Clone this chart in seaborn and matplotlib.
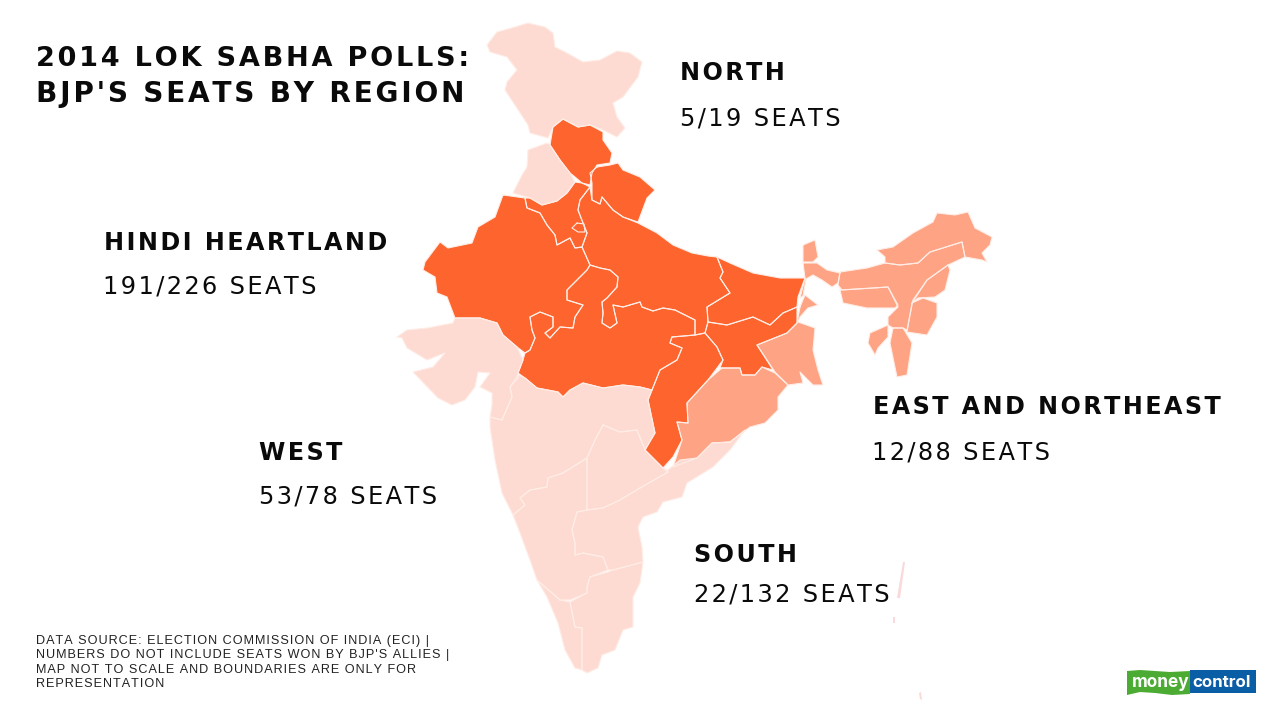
import matplotlib
matplotlib.use("Agg")
import matplotlib.pyplot as plt
import pandas as pd
import seaborn as sns

# ---- text content ----
TITLE_LINES = ["2014 LOK SABHA POLLS:", "BJP'S SEATS BY REGION"]
REGION_NAMES = ["NORTH", "HINDI HEARTLAND", "EAST AND NORTHEAST", "WEST", "SOUTH"]
REGION_SEATS = ["5/19 SEATS", "191/226 SEATS", "12/88 SEATS", "53/78 SEATS", "22/132 SEATS"]
FOOTNOTE = ["DATA SOURCE: ELECTION COMMISSION OF INDIA (ECI) |",
            "NUMBERS DO NOT INCLUDE SEATS WON BY BJP'S ALLIES |",
            "MAP NOT TO SCALE AND BOUNDARIES ARE ONLY FOR",
            "REPRESENTATION"]

# ---- map outlines ----
JAMMU_KASHMIR = [(487,45),(497,32),(515,27),(528,23),(545,27),(553,33),(555,47),(567,53),(583,62),(600,60),(617,51),(630,53),(642,62),(638,77),(623,97),(613,103),(617,117),(625,128),(617,137),(603,130),(590,125),(578,127),(563,119),(553,127),(548,138),(530,133),(528,125),(505,90),(507,82),(517,70),(507,57),(490,52)]
PUNJAB = [(547,143),(550,145),(560,160),(570,173),(575,182),(567,193),(557,201),(542,205),(530,198),(513,193),(522,175),(527,167),(528,150)]
HIMACHAL = [(563,119),(578,127),(590,125),(603,132),(603,140),(612,153),(610,163),(597,165),(592,173),(590,185),(582,183),(575,177),(570,173),(560,160),(550,145),(553,127)]
UTTARAKHAND = [(597,167),(610,165),(618,163),(623,170),(640,177),(655,190),(647,198),(638,222),(623,217),(613,210),(602,197),(600,204),(592,200),(592,183),(590,173)]
HARYANA = [(525,198),(530,198),(542,205),(557,201),(567,193),(575,182),(582,183),(590,187),(580,200),(578,210),(583,223),(587,233),(582,247),(575,248),(570,238),(557,245),(555,235),(547,225),(540,213),(527,208)]
DELHI = [(577,223),(572,228),(578,232),(585,232),(584,224)]
RAJASTHAN = [(503,195),(525,198),(527,208),(540,213),(547,225),(555,235),(557,245),(570,238),(575,248),(582,247),(590,265),(587,270),(567,290),(567,300),(583,305),(575,317),(573,328),(560,327),(550,338),(545,333),(553,327),(553,317),(540,312),(530,317),(532,330),(535,338),(530,350),(525,353),(517,347),(503,335),(497,323),(480,318),(455,318),(447,297),(437,293),(435,277),(423,270),(425,262),(440,242),(448,248),(472,243),(478,227),(495,217)]
UTTAR_PRADESH = [(590,187),(592,200),(600,204),(602,197),(613,210),(623,217),(638,223),(657,233),(673,245),(692,253),(708,256),(717,257),(723,272),(720,278),(730,293),(707,307),(708,322),(705,333),(695,335),(695,320),(675,310),(663,308),(653,311),(642,307),(640,302),(623,307),(613,305),(617,323),(610,328),(602,323),(603,313),(602,302),(607,298),(617,287),(618,277),(610,270),(600,268),(590,265),(582,247),(587,233),(583,223),(578,210),(580,200)]
MADHYA_PRADESH = [(590,265),(600,268),(610,270),(618,277),(617,287),(607,298),(602,302),(603,313),(602,323),(610,328),(617,323),(613,305),(623,307),(640,302),(642,307),(653,311),(663,308),(675,310),(695,320),(695,335),(672,337),(670,343),(682,348),(677,360),(660,370),(652,390),(640,387),(623,385),(603,388),(583,383),(570,390),(563,397),(558,392),(537,388),(525,378),(518,373),(523,360),(525,353),(530,350),(535,338),(532,330),(530,317),(540,312),(553,317),(553,327),(545,333),(550,338),(560,327),(573,328),(575,317),(583,305),(567,300),(567,290),(587,270)]
CHHATTISGARH = [(672,337),(695,335),(705,333),(717,347),(723,360),(708,380),(687,403),(688,423),(677,422),(682,440),(673,457),(663,468),(655,460),(645,450),(655,433),(648,400),(652,390),(660,370),(677,360),(682,348),(670,343)]
JHARKHAND = [(708,322),(727,325),(753,317),(770,325),(783,313),(797,307),(797,323),(787,333),(757,345),(773,370),(762,367),(755,375),(742,375),(740,368),(720,368),(723,360),(717,347),(705,333)]
BIHAR = [(717,257),(730,263),(753,273),(780,278),(805,278),(798,297),(797,307),(783,313),(770,325),(753,317),(727,325),(708,322),(707,307),(730,293),(720,278),(723,272)]
WEST_BENGAL = [(800,307),(805,295),(818,305),(808,308),(800,317),(798,322),(815,328),(813,350),(818,370),(823,385),(813,385),(800,372),(803,383),(788,385),(775,372),(757,345),(787,333),(797,323)]
ODISHA = [(722,368),(740,368),(742,375),(755,375),(762,367),(775,373),(788,385),(778,397),(778,410),(765,423),(750,427),(730,442),(712,443),(697,458),(673,467),(682,440),(677,422),(688,423),(687,403),(708,380)]
SIKKIM = [(803,245),(815,240),(818,257),(813,262),(803,262)]
BENGAL_NORTH = [(803,263),(817,263),(827,270),(840,273),(838,283),(832,287),(822,280),(813,275),(806,279),(803,296),(800,298),(805,278)]
ARUNACHAL = [(877,250),(893,247),(913,233),(933,222),(937,213),(955,215),(968,212),(975,228),(992,237),(990,245),(982,253),(987,262),(982,260),(965,257),(962,242),(930,252),(918,263),(900,265),(885,263),(885,257)]
ASSAM = [(840,272),(867,268),(885,263),(900,265),(918,263),(930,252),(962,242),(965,257),(948,265),(927,280),(913,300),(907,330),(903,328),(893,328),(888,325),(888,317),(898,307),(888,287),(873,288),(842,290),(838,285)]
NAGALAND = [(948,265),(950,270),(945,290),(935,297),(918,298),(912,303),(927,280)]
MEGHALAYA = [(840,290),(873,288),(888,287),(898,305),(895,308),(867,308),(843,303)]
MANIPUR = [(912,303),(923,298),(937,303),(937,317),(927,335),(907,332)]
TRIPURA = [(888,325),(888,337),(878,348),(875,355),(868,343),(870,333)]
MIZORAM = [(893,328),(903,328),(912,343),(907,375),(897,377),(890,343)]
GUJARAT = [(397,337),(407,330),(427,328),(453,323),(455,318),(480,318),(497,323),(503,335),(517,347),(523,360),(518,373),(518,378),(510,387),(512,397),(502,420),(490,417),(492,405),(492,393),(480,387),(490,373),(478,372),(475,387),(465,400),(452,405),(438,398),(413,372),(433,367),(445,353),(427,360),(407,348),(402,338)]
MAHARASHTRA = [(518,375),(525,378),(537,388),(558,392),(563,397),(570,390),(583,383),(603,388),(623,385),(640,387),(652,390),(648,400),(655,433),(645,450),(637,430),(620,432),(603,425),(595,440),(587,458),(563,473),(548,478),(547,487),(530,490),(520,498),(525,505),(513,515),(502,493),(495,460),(490,427),(490,417),(502,420),(512,397),(510,387)]
TELANGANA = [(603,425),(620,432),(637,430),(645,450),(655,460),(663,468),(668,472),(640,488),(620,500),(603,508),(587,510),(587,480),(587,458),(595,440)]
ANDHRA = [(663,468),(668,470),(680,460),(697,458),(712,443),(730,442),(745,430),(730,450),(713,467),(687,483),(682,497),(663,502),(657,512),(643,517),(638,527),(642,547),(643,562),(613,570),(608,570),(603,557),(583,553),(575,555),(575,543),(572,530),(577,512),(587,510),(603,508),(620,500),(640,488),(668,472)]
KARNATAKA = [(513,515),(525,505),(520,498),(530,490),(547,487),(548,478),(563,473),(587,458),(587,480),(587,510),(577,512),(572,530),(575,543),(575,555),(583,553),(603,557),(608,570),(590,577),(587,587),(587,593),(570,600),(560,600),(537,580),(530,560),(520,533)]
KERALA = [(560,600),(570,602),(575,627),(582,628),(582,670),(575,668),(565,650),(558,623),(547,597),(537,580)]
TAMIL_NADU = [(590,577),(608,572),(613,570),(643,562),(640,583),(633,597),(633,627),(623,630),(615,650),(602,655),(598,668),(587,673),(582,670),(582,628),(575,627),(570,602),(587,593),(587,587)]
ANDAMAN_A = [(903,562),(905,562),(900,598),(897,598)]
ANDAMAN_B = [(893,617),(895,617),(895,623),(893,623)]
NICOBAR = [(919,693),(921,692),(922,700),(920,699)]

NORTH_STATES = {"Jammu and Kashmir": JAMMU_KASHMIR, "Punjab": PUNJAB}
HEARTLAND_STATES = {"Himachal Pradesh": HIMACHAL, "Uttarakhand": UTTARAKHAND, "Haryana": HARYANA, "Delhi": DELHI,
                    "Rajasthan": RAJASTHAN, "Uttar Pradesh": UTTAR_PRADESH, "Madhya Pradesh": MADHYA_PRADESH,
                    "Chhattisgarh": CHHATTISGARH, "Jharkhand": JHARKHAND, "Bihar": BIHAR}
EAST_STATES = {"West Bengal": WEST_BENGAL, "Odisha": ODISHA, "Sikkim": SIKKIM, "Bengal north": BENGAL_NORTH,
               "Arunachal Pradesh": ARUNACHAL, "Assam": ASSAM, "Nagaland": NAGALAND, "Meghalaya": MEGHALAYA,
               "Manipur": MANIPUR, "Tripura": TRIPURA, "Mizoram": MIZORAM}
WEST_STATES = {"Gujarat": GUJARAT, "Maharashtra": MAHARASHTRA}
SOUTH_STATES = {"Telangana": TELANGANA, "Andhra Pradesh": ANDHRA, "Karnataka": KARNATAKA, "Kerala": KERALA,
                "Tamil Nadu": TAMIL_NADU}
ISLANDS = {"Andaman A": ANDAMAN_A, "Andaman B": ANDAMAN_B, "Nicobar": NICOBAR}

sns.set_theme(style="white", rc={"axes.grid": False})
LIGHT, MID, DARK = "#FDDBD2", "#FEA384", "#FE642D"
BORDER = "#FFEDE6"
INK = "#0A0A0A"

fig = plt.figure(figsize=(12.8, 7.2), dpi=100, facecolor="white")
ax = fig.add_axes([0, 0, 1, 1])
ax.set_xlim(0, 1280)
ax.set_ylim(720, 0)
ax.axis("off")

rows = []
for colour, group in [(LIGHT, NORTH_STATES), (DARK, HEARTLAND_STATES), (MID, EAST_STATES),
                      (LIGHT, WEST_STATES), (LIGHT, SOUTH_STATES)]:
    for state, pts in group.items():
        xs, ys = zip(*pts)
        ax.fill(xs, ys, color=colour, lw=0, zorder=1)
        for order, (x, y) in enumerate(list(pts) + [pts[0]]):
            rows.append({"state": state, "order": order, "x": x, "y": y})
for state, pts in ISLANDS.items():
    xs, ys = zip(*pts)
    ax.fill(xs, ys, color="#FAD9DA", lw=0, zorder=1)

borders = pd.DataFrame(rows)
sns.lineplot(data=borders, x="x", y="y", units="state", estimator=None, sort=False,
             color=BORDER, lw=0.8, ax=ax, legend=False, zorder=2)
ax.set_xlim(0, 1280)
ax.set_ylim(720, 0)
ax.axis("off")

HAIR = "\u200a"
def tracked(s, sep=HAIR):
    return sep.join(s)

HEAD = dict(family=["DejaVu Sans"], weight="bold", color=INK, va="baseline")
BODY = dict(family=["DejaVu Sans"], color=INK, va="baseline")

ax.text(36, 66, tracked(TITLE_LINES[0]), fontsize=19.5, **HEAD)
ax.text(36, 102, tracked(TITLE_LINES[1]), fontsize=20.2, **HEAD)

name_pos = [(680, 80), (104, 250), (873, 414), (259, 460), (694, 562)]
seat_pos = [(680, 125), (103, 293), (872, 459), (259, 504), (694, 601)]
for name, (x, y) in zip(REGION_NAMES, name_pos):
    ax.text(x, y, tracked(name), fontsize=17.2, **HEAD)
for seats, (x, y) in zip(REGION_SEATS, seat_pos):
    ax.text(x, y, tracked(seats), fontsize=17.4, **BODY)

for i, line in enumerate(FOOTNOTE):
    ax.text(36, 644 + 14.4 * i, tracked(line), fontsize=9.1,
            family=["Liberation Sans", "DejaVu Sans"], color="#222222", va="baseline")

# logo
ax.fill([1127, 1140, 1155, 1170, 1190, 1190, 1172, 1155, 1140, 1127],
        [671, 670, 671, 672, 671, 694, 695, 693, 692, 695], color="#4CAB33", lw=0, zorder=3)
ax.fill([1190, 1255.5, 1255.5, 1190], [670, 670, 693, 693], color="#0A5EA6", lw=0, zorder=3)
ax.text(1132, 687, "money", fontsize=12.4, family="Inter", weight="bold", color="white", va="baseline", zorder=4)
ax.text(1192, 687, "control", fontsize=12.2, family="Inter", weight="bold", color="white", va="baseline", zorder=4)

fig.savefig("out.png", dpi=100, facecolor="white")
